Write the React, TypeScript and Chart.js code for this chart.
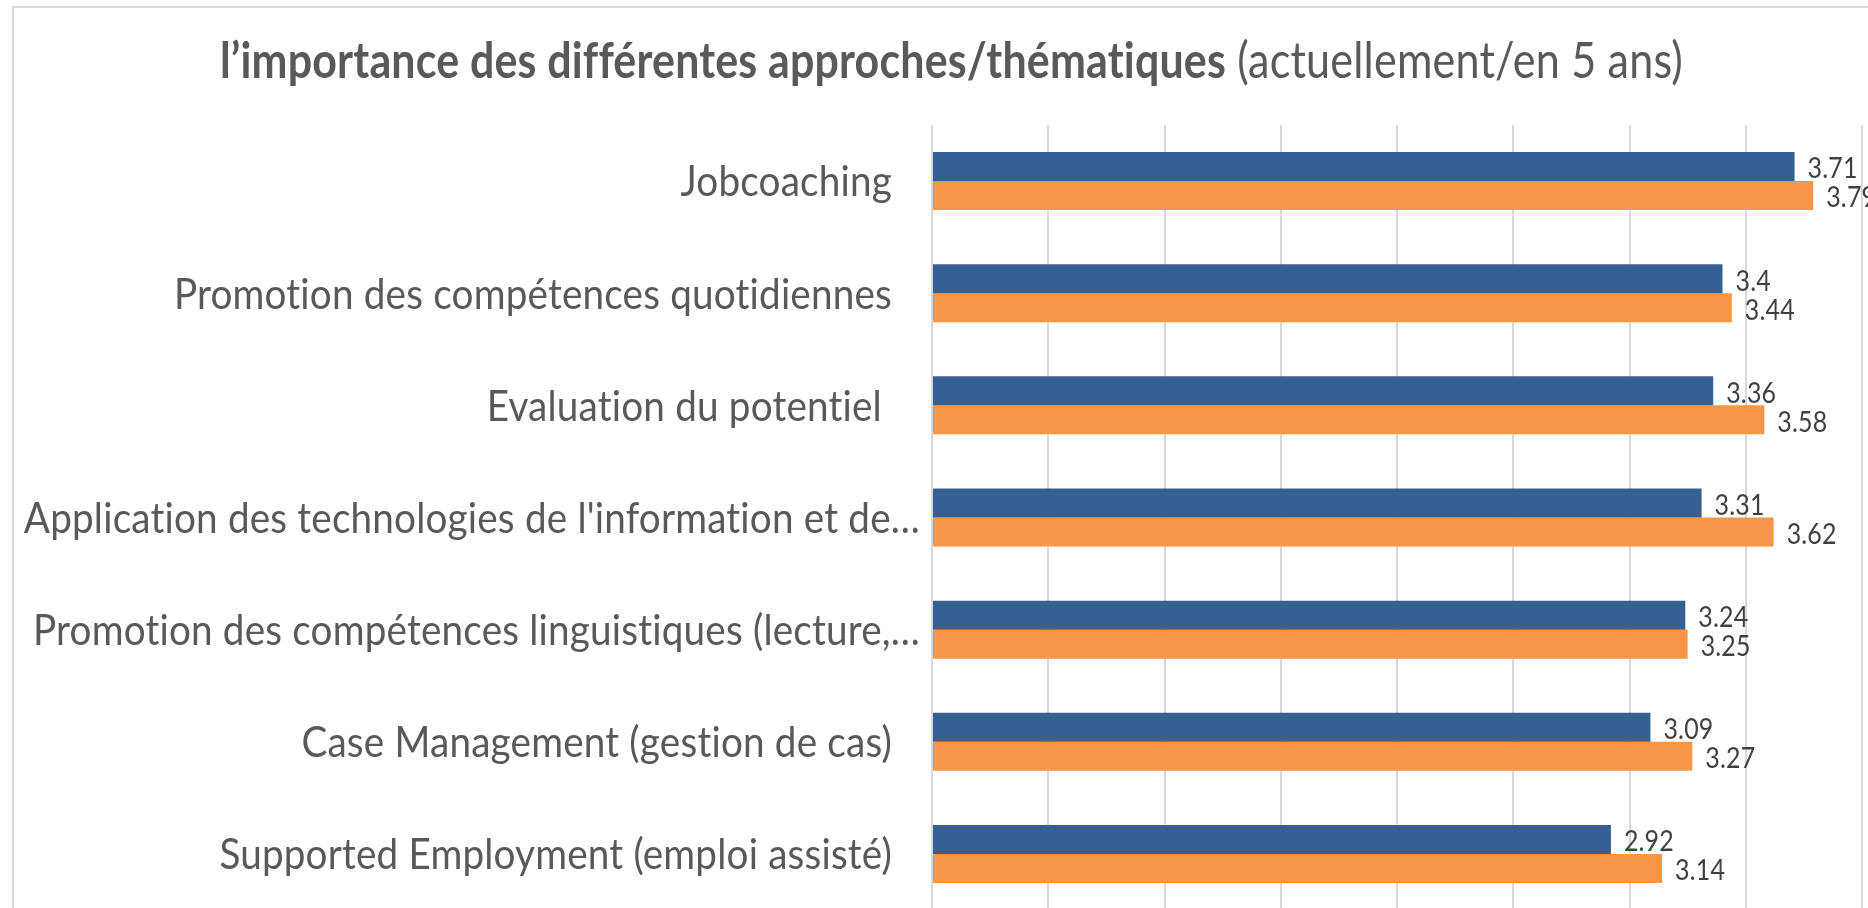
import React, { useEffect, useRef } from "react";
import { Chart, registerables } from "chart.js";

Chart.register(...registerables);

// ---------- data ----------
const categories = [
  "Jobcoaching",
  "Promotion des compétences quotidiennes",
  "Evaluation du potentiel ",
  "Application des technologies de l'information et de…",
  "Promotion des compétences linguistiques (lecture,…",
  "Case Management (gestion de cas)",
  "Supported Employment (emploi assisté)",
];
const seriesNames = ["actuellement", "en 5 ans"];
const currentValues = [3.71, 3.4, 3.36, 3.31, 3.24, 3.09, 2.92];
const futureValues = [3.79, 3.44, 3.58, 3.62, 3.25, 3.27, 3.14];
const titleBold = "l’importance des différentes approches/thématiques";
const titleRegular = " (actuellement/en 5 ans)";
const axisMin = 0;
const axisMax = 4;
const axisStep = 0.5;

// ---------- style ----------
const FAMILY = "Lato, 'Open Sans', 'Noto Sans', sans-serif";
const BLUE = "#366092";
const ORANGE = "#F79646";
const GRID = "#d9d9d9";
const TEXT = "#595959";
const LABEL = "#404040";
const SPACING = "0.2px"; // non-zero spacing switches off Lato's "ti" ligature

function setFont(ctx: CanvasRenderingContext2D, font: string) {
  ctx.font = font;
  try {
    (ctx as any).letterSpacing = SPACING;
  } catch (e) {
    /* ignore */
  }
}

function measure(ctx: CanvasRenderingContext2D, text: string, font: string) {
  ctx.save();
  setFont(ctx, font);
  const w = ctx.measureText(text).width;
  ctx.restore();
  return w;
}

function drawScaled(
  ctx: CanvasRenderingContext2D,
  text: string,
  x: number,
  y: number,
  align: "left" | "right" | "center",
  font: string,
  sx: number,
  color: string
) {
  ctx.save();
  setFont(ctx, font);
  ctx.fillStyle = color;
  ctx.textBaseline = "alphabetic";
  ctx.textAlign = "left";
  const w = ctx.measureText(text).width * sx;
  const left = align === "right" ? x - w : align === "center" ? x - w / 2 : x;
  ctx.translate(left, y);
  ctx.scale(sx, 1);
  ctx.fillText(text, 0, 0);
  ctx.restore();
}

const decorPlugin = {
  id: "decor",
  beforeDraw(chart: any) {
    const ctx = chart.ctx as CanvasRenderingContext2D;
    ctx.save();
    ctx.fillStyle = "#ffffff";
    ctx.fillRect(0, 0, chart.width, chart.height);
    ctx.strokeStyle = GRID;
    ctx.lineWidth = 2;
    ctx.strokeRect(13, 7, chart.width + 50, chart.height + 50);
    ctx.restore();
  },
  afterDraw(chart: any) {
    const ctx = chart.ctx as CanvasRenderingContext2D;
    const area = chart.chartArea;
    const yScale = chart.scales.y;

    // Title (bold + regular)
    const tSize = 50;
    const fB = `bold ${tSize}px ${FAMILY}`;
    const fR = `${tSize}px ${FAMILY}`;
    const sxB = 1006 / measure(ctx, titleBold, fB);
    const sxR = 457 / measure(ctx, titleRegular, fR);
    drawScaled(ctx, titleBold, 220, 78, "left", fB, sxB, TEXT);
    drawScaled(ctx, titleRegular, 1226, 78, "left", fR, sxR, TEXT);

    // Category labels: one horizontal scale fitted to the whole label column
    const cSize = 43;
    const fC = `${cSize}px ${FAMILY}`;
    const natural = categories.reduce((s, c) => s + measure(ctx, c.trim(), fC), 0);
    const sxC = 4371 / natural;
    categories.forEach((label, i) => {
      const yc = yScale.getPixelForValue(i);
      const gap = label.endsWith("…") ? 12 : 40;
      drawScaled(ctx, label, area.left - gap, yc + cSize * 0.358, "right", fC, sxC, TEXT);
    });

    // Data labels
    const dSize = 29;
    const fD = `${dSize}px ${FAMILY}`;
    const sxD = 50 / measure(ctx, "3.71", fD);
    chart.data.datasets.forEach((ds: any, di: number) => {
      const meta = chart.getDatasetMeta(di);
      meta.data.forEach((bar: any, i: number) => {
        const v = ds.data[i];
        drawScaled(ctx, String(v), bar.x + 13, bar.y + dSize * 0.358 + 1.5, "left", fD, sxD, LABEL);
      });
    });
  },
};

export default function App() {
  const canvasRef = useRef<HTMLCanvasElement | null>(null);

  useEffect(() => {
    const canvas = canvasRef.current;
    if (!canvas) return;
    const chart = new Chart(canvas, {
      type: "bar",
      data: {
        labels: categories,
        datasets: [
          {
            label: seriesNames[0],
            data: currentValues,
            backgroundColor: BLUE,
            categoryPercentage: 0.517,
            barPercentage: 1,
          },
          {
            label: seriesNames[1],
            data: futureValues,
            backgroundColor: ORANGE,
            categoryPercentage: 0.517,
            barPercentage: 1,
          },
        ],
      },
      options: {
        indexAxis: "y",
        responsive: false,
        maintainAspectRatio: false,
        animation: false,
        devicePixelRatio: 1,
        layout: { padding: { left: 932, top: 125, right: 38, bottom: 30 } },
        plugins: {
          legend: { display: false },
          title: { display: false },
          tooltip: { enabled: false },
        },
        scales: {
          x: {
            min: axisMin,
            max: axisMax,
            ticks: { display: false, stepSize: axisStep },
            grid: { color: GRID, lineWidth: 2, drawTicks: false },
            border: { display: false },
          },
          y: { display: false },
        },
      },
      plugins: [decorPlugin],
    });
    let alive = true;
    const fonts = (document as any).fonts;
    if (fonts && fonts.load) {
      Promise.all([fonts.load(`43px Lato`), fonts.load(`bold 50px Lato`)])
        .then(() => {
          if (alive) chart.draw();
        })
        .catch(() => {});
    }
    return () => {
      alive = false;
      chart.destroy();
    };
  }, []);

  return (
    <div
      style={{
        position: "fixed",
        left: 0,
        top: 0,
        width: 1868,
        height: 908,
        overflow: "hidden",
        background: "#ffffff",
      }}
    >
      <canvas ref={canvasRef} width={1900} height={940} style={{ display: "block" }} />
    </div>
  );
}
